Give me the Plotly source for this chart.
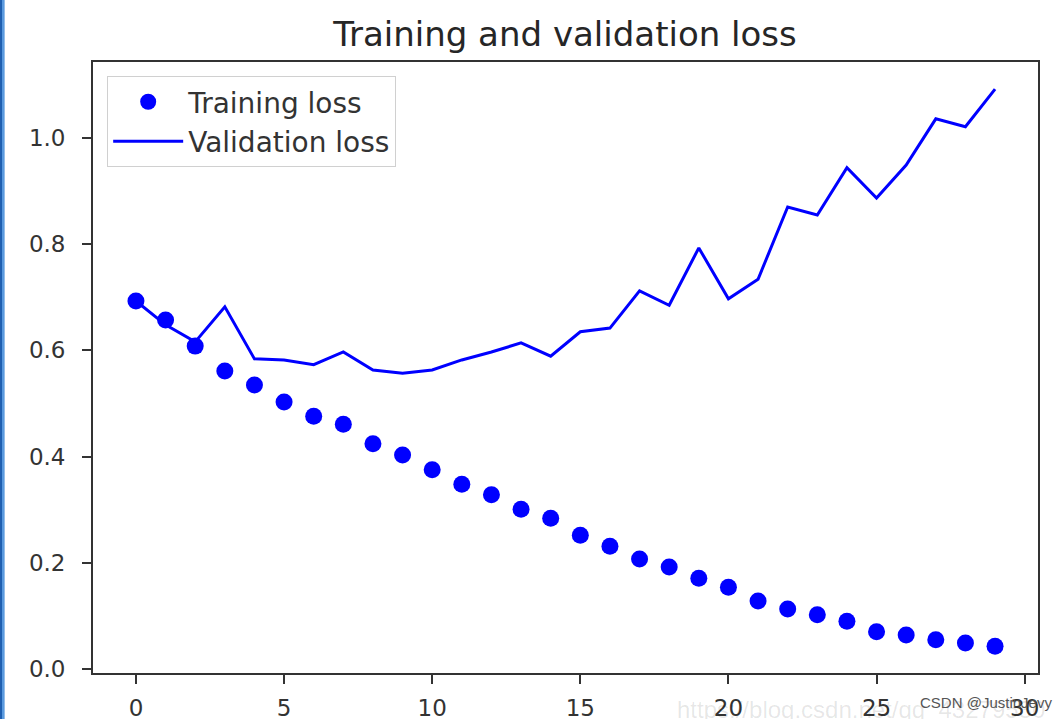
import plotly.graph_objects as go

epochs = list(range(30))
training_loss = [0.693, 0.657, 0.608, 0.561, 0.535, 0.503, 0.476, 0.461, 0.424, 0.403,
                 0.375, 0.348, 0.328, 0.301, 0.284, 0.252, 0.231, 0.207, 0.192, 0.171,
                 0.154, 0.128, 0.113, 0.102, 0.090, 0.070, 0.064, 0.055, 0.049, 0.043]
validation_loss = [0.693, 0.648, 0.616, 0.682, 0.584, 0.582, 0.573, 0.597, 0.563, 0.557,
                   0.563, 0.582, 0.597, 0.614, 0.589, 0.635, 0.642, 0.712, 0.685, 0.793,
                   0.697, 0.734, 0.870, 0.855, 0.944, 0.887, 0.949, 1.036, 1.021, 1.092]
x_ticks = [0, 5, 10, 15, 20, 25, 30]
y_ticks = [0.0, 0.2, 0.4, 0.6, 0.8, 1.0]
y_tick_labels = ["0.0", "0.2", "0.4", "0.6", "0.8", "1.0"]

fig = go.Figure()
fig.add_trace(go.Scatter(
    x=epochs, y=training_loss, mode="markers", name="Training loss",
    marker=dict(color="#0000ff", size=17),
))
fig.add_trace(go.Scatter(
    x=epochs, y=validation_loss, mode="lines", name="Validation loss",
    line=dict(color="#0000ff", width=3),
))

axis_common = dict(
    showgrid=False, zeroline=False, showline=True, mirror=True,
    linecolor="#333333", linewidth=1.8, automargin=False,
    ticks="outside", ticklen=9, tickwidth=1.8, tickcolor="#333333",
    tickfont=dict(family="DejaVu Sans", size=23, color="#333333"),
)

fig.update_layout(
    width=1061, height=719,
    margin=dict(l=93, r=23, t=62, b=46),
    paper_bgcolor="white", plot_bgcolor="white",
    title=dict(text="Training and validation loss", x=0.5325, xanchor="center",
               y=0.952, yanchor="middle",
               font=dict(family="DejaVu Sans", size=34, color="#262626")),
    xaxis=dict(range=[-1.45, 30.45], tickvals=x_ticks, ticklabelstandoff=4, **axis_common),
    yaxis=dict(range=[-0.0075, 1.143], tickvals=y_ticks, ticktext=y_tick_labels,
               ticklabelstandoff=12, **axis_common),
    legend=dict(x=0.015, y=0.977, xanchor="left", yanchor="top",
                bgcolor="rgba(255,255,255,0.8)", bordercolor="#d0d0d0", borderwidth=1,
                font=dict(family="DejaVu Sans", size=28, color="#333333"),
                itemwidth=70, tracegroupgap=0),
    showlegend=True,
)

# screenshot border on the left edge
fig.add_shape(type="rect", xref="paper", yref="paper",
              x0=-0.0984, x1=-0.0963, y0=-0.08, y1=1.11,
              fillcolor="#1f5fb0", line=dict(width=0), layer="above")
fig.add_shape(type="rect", xref="paper", yref="paper",
              x0=-0.0963, x1=-0.0935, y0=-0.08, y1=1.11,
              fillcolor="#5a9ade", line=dict(width=0), layer="above")

# watermarks
fig.add_annotation(text="https://blog.csdn.net/qq_43279530", xref="paper", yref="paper",
                   x=0.6160, y=-0.060, xanchor="left", yanchor="middle", showarrow=False,
                   font=dict(family="Liberation Sans", size=24, color="rgba(0,0,0,0.10)"))
fig.add_annotation(text="CSDN @JustinJevy", xref="paper", yref="paper",
                   x=0.873, y=-0.049, xanchor="left", yanchor="middle", showarrow=False,
                   font=dict(family="Liberation Sans", size=15, color="#555555"))

fig.write_html("out.html",
               config={"displayModeBar": False},
               post_script="document.body.style.margin='0';document.body.style.overflow='hidden';")
